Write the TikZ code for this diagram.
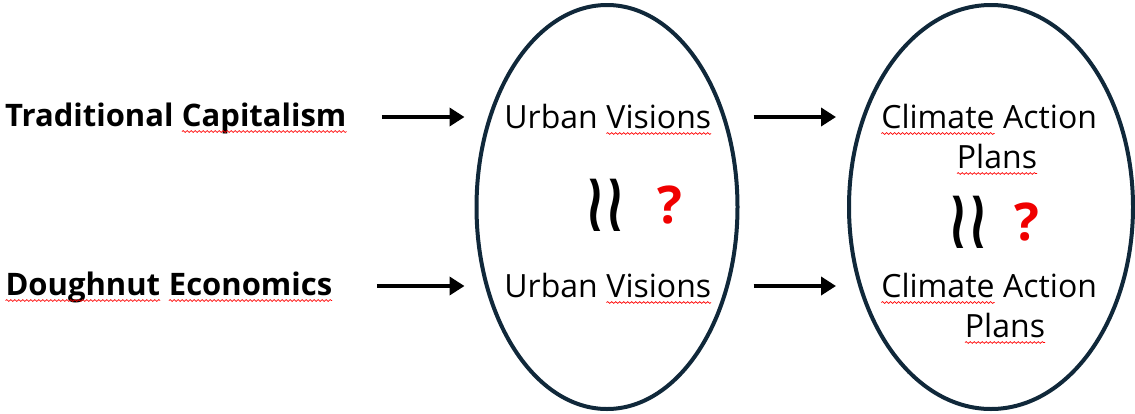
\documentclass[tikz,border=0pt]{standalone}
\usepackage{fontspec}
\setmainfont{Open Sans}
\newfontfamily\symfont{DejaVu Sans}
\usetikzlibrary{arrows.meta,shapes.geometric,decorations.pathmorphing}
\definecolor{ringcol}{RGB}{16,40,58}
\definecolor{qred}{RGB}{240,0,0}
% red wavy underline for flagged words
\newcommand\spell[1]{\tikz[baseline=(w.base)]{%
  \node[inner sep=0pt, outer sep=0pt, anchor=base] (w) at (0,0) {#1};
  \draw[red, line width=0.7pt, decorate,
        decoration={snake, amplitude=0.9pt, segment length=4pt}]
    ([yshift=-5.5pt]w.base west) -- ([yshift=-5.5pt]w.base east);}}
\begin{document}
\begin{tikzpicture}[x=1pt,y=-1pt,
  lbl/.style={inner sep=0pt, anchor=base, font=\fontsize{32}{40}\selectfont},
  head/.style={inner sep=0pt, anchor=base west, font=\fontsize{31}{40}\selectfont\bfseries},
  ringnode/.style={draw=ringcol, line width=4pt, ellipse, inner sep=0pt},
  arr/.style={line width=4.5pt, -{Triangle[length=15pt,width=18pt]}},
  approx/.style={inner sep=0pt, font=\fontsize{44}{44}\symfont\bfseries},
  qmark/.style={inner sep=0pt, text=qred, font=\fontsize{52}{52}\selectfont\bfseries}]
\useasboundingbox (0,0) rectangle (1135,413);

% the two ovals
\node[ringnode, minimum width=261pt, minimum height=404pt] (r1) at (607,207) {};
\node[ringnode, minimum width=284pt, minimum height=404pt] (r2) at (991,207) {};

% row labels
\node[head] (tc) at (5,126) {Traditional \spell{Capitalism}};
\node[head] (de) at (5,295) {\spell{Doughnut} \spell{Economics}};

% texts inside the ovals
\node[lbl] (uv1) at (608,128) {Urban \spell{Visions}};
\node[lbl] (uv2) at (608,297) {Urban \spell{Visions}};
\node[lbl] (ca1) at (989,128) {\spell{Climate} Action};
\node[lbl] (pl1) at (997,168) {\spell{Plans}};
\node[lbl] (ca2) at (989,297) {\spell{Climate} Action};
\node[lbl] (pl2) at (1005,337) {\spell{Plans}};

\node[approx] (ap1) at (605,205) {\scalebox{1.2}[1.9]{≀≀}};
\node[qmark] (q1) at (670,205) {?};
\node[approx] (ap2) at (968,222) {\scalebox{1.2}[1.9]{≀≀}};
\node[qmark] (q2) at (1027,222) {?};

% arrow rows
\coordinate (row1) at (0,117);
\coordinate (row2) at (0,286);
\draw[arr, shorten <=35pt, shorten >=10pt] (tc.east |- row1) -- (row1 -| r1.west);
\draw[arr, shorten <=44pt, shorten >=10pt] (de.east |- row2) -- (row2 -| r1.west);
\draw[arr, shorten <=14pt, shorten >=11pt] (row1 -| r1.east) -- (row1 -| r2.west);
\draw[arr, shorten <=14pt, shorten >=11pt] (row2 -| r1.east) -- (row2 -| r2.west);
\end{tikzpicture}
\end{document}
